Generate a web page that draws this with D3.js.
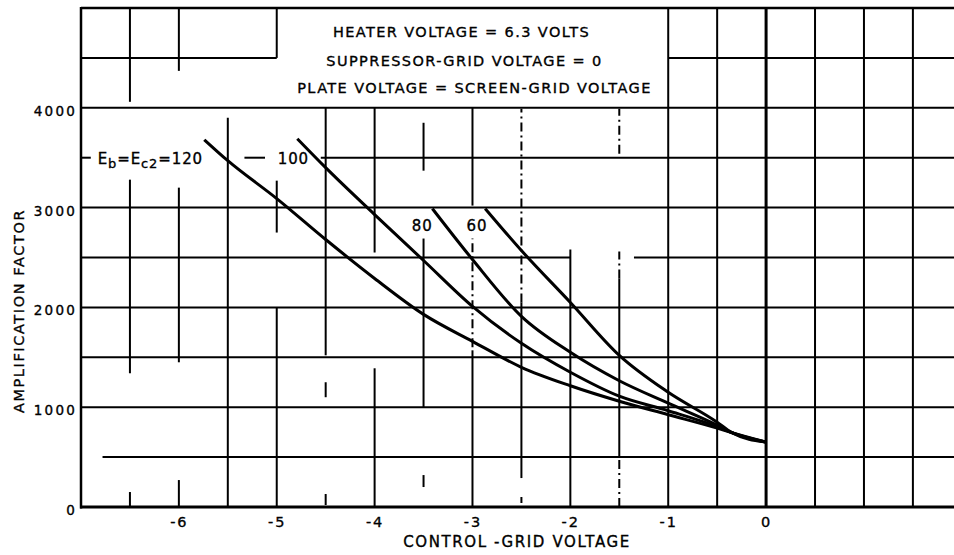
<!DOCTYPE html>
<html>
<head>
<meta charset="utf-8">
<script src="https://cdn.jsdelivr.net/npm/d3@7/dist/d3.min.js"></script>
<style>
  html, body { margin: 0; padding: 0; background: #fff; }
  svg { display: block; }
  text { font-family: "DejaVu Sans", "Liberation Sans", sans-serif; fill: #000; stroke: #000; stroke-width: 0.35px; }
</style>
</head>
<body>
<svg id="chart" width="954" height="555"></svg>
<script>
// ---------- data ----------
const xTicks = [-6, -5, -4, -3, -2, -1, 0];
const yTicks = [0, 1000, 2000, 3000, 4000];

// control-grid voltage / amplification factor for each plate (= screen-grid) voltage
const volts120 = [-5.74, -5.5, -5.0, -4.5, -4.0, -3.5, -3.0, -2.5, -2.0, -1.5, -1.0, -0.5, -0.35, 0];
const mu120    = [3680, 3470, 3090, 2680, 2290, 1930, 1660, 1400, 1215, 1060, 925, 790, 745, 650];
const volts100 = [-4.79, -4.5, -4.0, -3.5, -3.0, -2.5, -2.0, -1.5, -1.0, -0.5, -0.35, 0];
const mu100    = [3690, 3400, 2930, 2470, 2010, 1640, 1350, 1110, 965, 805, 745, 650];
const volts80  = [-3.41, -3.0, -2.5, -2.0, -1.5, -1.0, -0.5, -0.35, 0];
const mu80     = [2990, 2480, 1910, 1550, 1265, 1040, 820, 745, 650];
const volts60  = [-2.87, -2.5, -2.0, -1.5, -1.0, -0.5, -0.35, 0];
const mu60     = [2990, 2570, 2050, 1520, 1150, 850, 745, 650];

const curveNames = ["120", "100", "80", "60"];
// label anchors (volts, amplification factor)
const labelVolts = [-6.83, -4.99, -3.62, -3.06];
const labelMu    = [3440, 3440, 2770, 2770];

const infoLines = [
  "HEATER VOLTAGE = 6.3 VOLTS",
  "SUPPRESSOR-GRID VOLTAGE = 0",
  "PLATE VOLTAGE = SCREEN-GRID VOLTAGE"
];

// grid pieces as drawn on the original sheet: [volts, mu from, mu to, dashed]
const vGridPieces = [
  [-6.5, 4060, 5000], [-6.5, 1340, 3280], [-6.5, 0, 150],
  [-6, 4370, 5000], [-6, 1450, 3200], [-6, 0, 270],
  [-5.5, 0, 3900],
  [-5, 4500, 5000], [-5, 2750, 3270], [-5, 0, 2000],
  [-4.5, 1520, 4000], [-4.5, 1100, 1250], [-4.5, 20, 130],
  [-4, 2550, 4000], [-4, 0, 1390],
  [-3.5, 3370, 3850], [-3.5, 1000, 2690], [-3.5, 200, 320],
  [-3, 3020, 4000], [-3, 1600, 2690, 1], [-3, 0, 1570],
  [-2.5, 2050, 3990, 1], [-2.5, 290, 2050], [-2.5, 40, 100],
  [-2, 0, 2580],
  [-1.5, 3540, 3990, 1], [-1.5, 2290, 2560, 1], [-1.5, 500, 2290], [-1.5, 0, 500, 1],
  [-1, 0, 5000], [-0.5, 0, 5000], [0.5, 0, 5000], [1, 0, 5000], [1.5, 0, 5000]
];
// [mu, volts from, volts to]
const hGridPieces = [
  [4500, -7, -5], [4500, -1, 1.92],
  [4000, -7, 1.92],
  [3500, -7, -6.9], [3500, -5.33, -5.12], [3500, -4.55, 1.92],
  [3000, -7, 1.92],
  [2500, -7, -2.0], [2500, -1.35, 1.92],
  [2000, -7, 1.92], [1500, -7, 1.92], [1000, -7, 1.92], [500, -6.78, 1.92]
];

// ---------- drawing ----------
const svg = d3.select("#chart");
const x = d3.scaleLinear().domain([-7, 1.92]).range([81, 954]);
const y = d3.scaleLinear().domain([0, 5000]).range([507, 8]);

const grid = svg.append("g").attr("stroke", "#000").attr("fill", "none");
grid.selectAll("line.v").data(vGridPieces).join("line")
  .attr("class", "v")
  .attr("x1", d => x(d[0])).attr("x2", d => x(d[0]))
  .attr("y1", d => y(d[1])).attr("y2", d => y(d[2]))
  .attr("stroke-width", 2)
  .attr("stroke-dasharray", d => d[3] ? "9,4,2,4" : null);

grid.selectAll("line.h").data(hGridPieces).join("line")
  .attr("class", "h")
  .attr("x1", d => x(d[1])).attr("x2", d => x(d[2]))
  .attr("y1", d => y(d[0])).attr("y2", d => y(d[0]))
  .attr("stroke-width", 2);

// zero-volt line (heavier), frame
grid.append("line").attr("x1", x(0)).attr("x2", x(0)).attr("y1", y(0)).attr("y2", y(5000)).attr("stroke-width", 3);
grid.append("line").attr("x1", x(-7)).attr("x2", x(1.92)).attr("y1", y(5000)).attr("y2", y(5000)).attr("stroke-width", 2.5);
grid.append("line").attr("x1", x(-7)).attr("x2", x(-7)).attr("y1", y(0) + 1.5).attr("y2", y(5000) - 1).attr("stroke-width", 2.5);
grid.append("line").attr("x1", x(-7) - 1).attr("x2", x(1.92)).attr("y1", y(0)).attr("y2", y(0)).attr("stroke-width", 3);

// axes labels via d3 axes (domain/ticks hidden, labels only)
const xAxis = svg.append("g").attr("transform", `translate(0,${y(0)})`)
  .call(d3.axisBottom(x).tickValues(xTicks).tickSize(0).tickPadding(10).tickFormat(d => d === 0 ? "0" : "-" + Math.abs(d)));
xAxis.select(".domain").remove();
xAxis.selectAll("text").attr("font-size", 14.5).attr("letter-spacing", 2)
  .style("font-family", '"DejaVu Sans", sans-serif');

const yAxis = svg.append("g").attr("transform", `translate(${x(-7)},0)`)
  .call(d3.axisLeft(y).tickValues(yTicks).tickSize(0).tickPadding(4).tickFormat(d3.format("d")));
yAxis.select(".domain").remove();
yAxis.selectAll("text").attr("font-size", 13.5).attr("letter-spacing", 2.2).attr("dy", "0.55em")
  .style("font-family", '"DejaVu Sans", sans-serif');

svg.append("text").attr("x", 517).attr("y", 547).attr("text-anchor", "middle")
  .attr("font-size", 15).attr("letter-spacing", 1.6).text("CONTROL -GRID VOLTAGE");
svg.append("text").attr("transform", "translate(24,311) rotate(-90)").attr("text-anchor", "middle")
  .attr("font-size", 14.5).attr("letter-spacing", 1.6).text("AMPLIFICATION FACTOR");

// information block
const infoX = (x(-5) + x(-1)) / 2;
const infoBase = [y(4710), y(4420), y(4150)];
svg.selectAll("text.info").data(infoLines).join("text")
  .attr("class", "info")
  .attr("x", (d, i) => infoX + [-11, -8, 2][i])
  .attr("y", (d, i) => infoBase[i])
  .attr("text-anchor", "middle").attr("font-size", 14.5).attr("letter-spacing", 1.4)
  .text(d => d);

// curves
const seriesVolts = [volts120, volts100, volts80, volts60];
const seriesMu = [mu120, mu100, mu80, mu60];
const line = d3.line().x(d => x(d[0])).y(d => y(d[1])).curve(d3.curveMonotoneX);
svg.append("g").selectAll("path").data(curveNames).join("path")
  .attr("d", (n, i) => line(seriesVolts[i].map((v, j) => [v, seriesMu[i][j]])))
  .attr("fill", "none").attr("stroke", "#000").attr("stroke-width", 3)
  .attr("stroke-linejoin", "round");

// curve labels
const lab = svg.append("g").attr("font-size", 15).attr("letter-spacing", 0.9);
curveNames.forEach((n, i) => {
  const t = lab.append("text").attr("x", x(labelVolts[i])).attr("y", y(labelMu[i]));
  if (i === 0) {
    t.append("tspan").text("E");
    t.append("tspan").attr("dy", 4).attr("font-size", 13).text("b");
    t.append("tspan").attr("dy", -4).text("=E");
    t.append("tspan").attr("dy", 4).attr("font-size", 13).text("c2");
    t.append("tspan").attr("dy", -4).text("=" + n);
  } else {
    t.text(n);
  }
});
</script>
</body>
</html>
